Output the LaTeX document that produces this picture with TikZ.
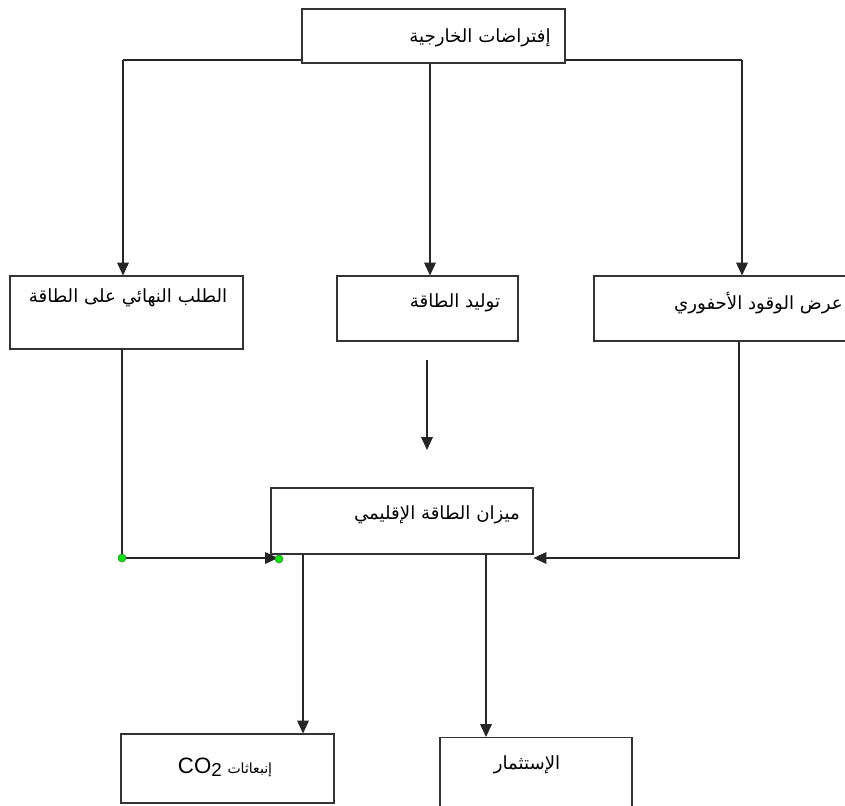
\documentclass[tikz,border=0pt]{standalone}
\usepackage{fontspec}
\setmainfont{DejaVu Sans}
\newfontfamily\arabicfont[Script=Arabic]{DejaVu Sans}
\newfontfamily\latinfont{Liberation Sans}
\TeXXeTstate=1
\usetikzlibrary{arrows.meta}
\begin{document}
\begin{tikzpicture}[x=0.03cm, y=-0.03cm,
  box/.style={draw=black!80, fill=white, line width=0.9pt, rectangle, inner sep=0pt},
  lbl/.style={font=\arabicfont\fontsize{15.5}{18}\selectfont, inner sep=0pt},
  arr/.style={draw=black!85, line width=0.9pt, -{Triangle[length=11pt,width=10pt]}},
  ln/.style={draw=black!85, line width=0.9pt},
  dot/.style={circle, fill=green!90!black, draw=black!60, line width=0.4pt, inner sep=0pt, minimum size=7pt}]
\useasboundingbox (0,0) rectangle (845,805);
% branch points on the top line
\coordinate (tl) at (123,60);
\coordinate (tr) at (742,60);
\draw[ln] (tl) -- (tr);
% boxes
\node[box, minimum width=7.89cm, minimum height=1.62cm] (top) at (433.5,36){};
\node[box, minimum width=6.99cm, minimum height=2.19cm] (dem) at (126.5,312.5){};
\node[box, minimum width=5.43cm, minimum height=1.95cm] (gen) at (427.5,308.5){};
\node[box, minimum width=8.58cm, minimum height=1.95cm] (sup) at (737,308.5){};
\node[box, minimum width=7.86cm, minimum height=1.98cm] (reg) at (402,521){};
\node[box, minimum width=6.39cm, minimum height=2.07cm] (co2) at (227.5,768.5){};
\node[box, minimum width=5.76cm, minimum height=2.19cm] (inv) at (536,774){};
% labels
\node[lbl] (ttop) at (480,38){\beginR إفتراضات الخارجية\endR};
\node[lbl] (tdem) at (128,298){\beginR الطلب النهائي على الطاقة\endR};
\node[lbl] (tgen) at (455,303){\beginR توليد الطاقة\endR};
\node[lbl, anchor=east] (tsup) at (843,303){\beginR عرض الوقود الأحفوري\endR};
\node[lbl] (treg) at (437,515){\beginR ميزان الطاقة الإقليمي\endR};
\node[lbl] (tco2) at (225,767){\beginR {\fontsize{12}{14}\selectfont إنبعاثات} {\latinfont\fontsize{19}{20}\selectfont\beginL CO\raisebox{-0.25ex}{\fontsize{16}{18}\selectfont 2}\endL}\endR};
\node[lbl] (tinv) at (527,765){\beginR الإستثمار\endR};
% top to second row
\draw[arr] (tl) -- (tl |- dem.north);
\draw[arr] (tr) -- (tr |- sup.north);
\draw[arr] ([xshift=-0.105cm]top.south) -- ([xshift=-0.105cm]top.south |- gen.north);
\coordinate (fa) at (427,360);
\coordinate (fb) at (427,450);
\draw[arr] (fa) -- (fb);
% feeds into the regional balance
\coordinate (ld) at (122,558);
\coordinate (le) at (278,558);
\draw[arr] (ld |- dem.south) -- (ld) -- (le);
\coordinate (rd) at (739,558);
\draw[arr] (rd |- sup.south) -- (rd) -- (reg.east |- rd);
\node[dot] (d1) at (ld){};
\node[dot] (d2) at (279,559){};
% outputs
\coordinate (e1) at (303,554);
\coordinate (e2) at (486,554);
\draw[arr] (e1) -- (e1 |- co2.north);
\draw[arr] (e2) -- (e2 |- inv.north);
\end{tikzpicture}
\end{document}
